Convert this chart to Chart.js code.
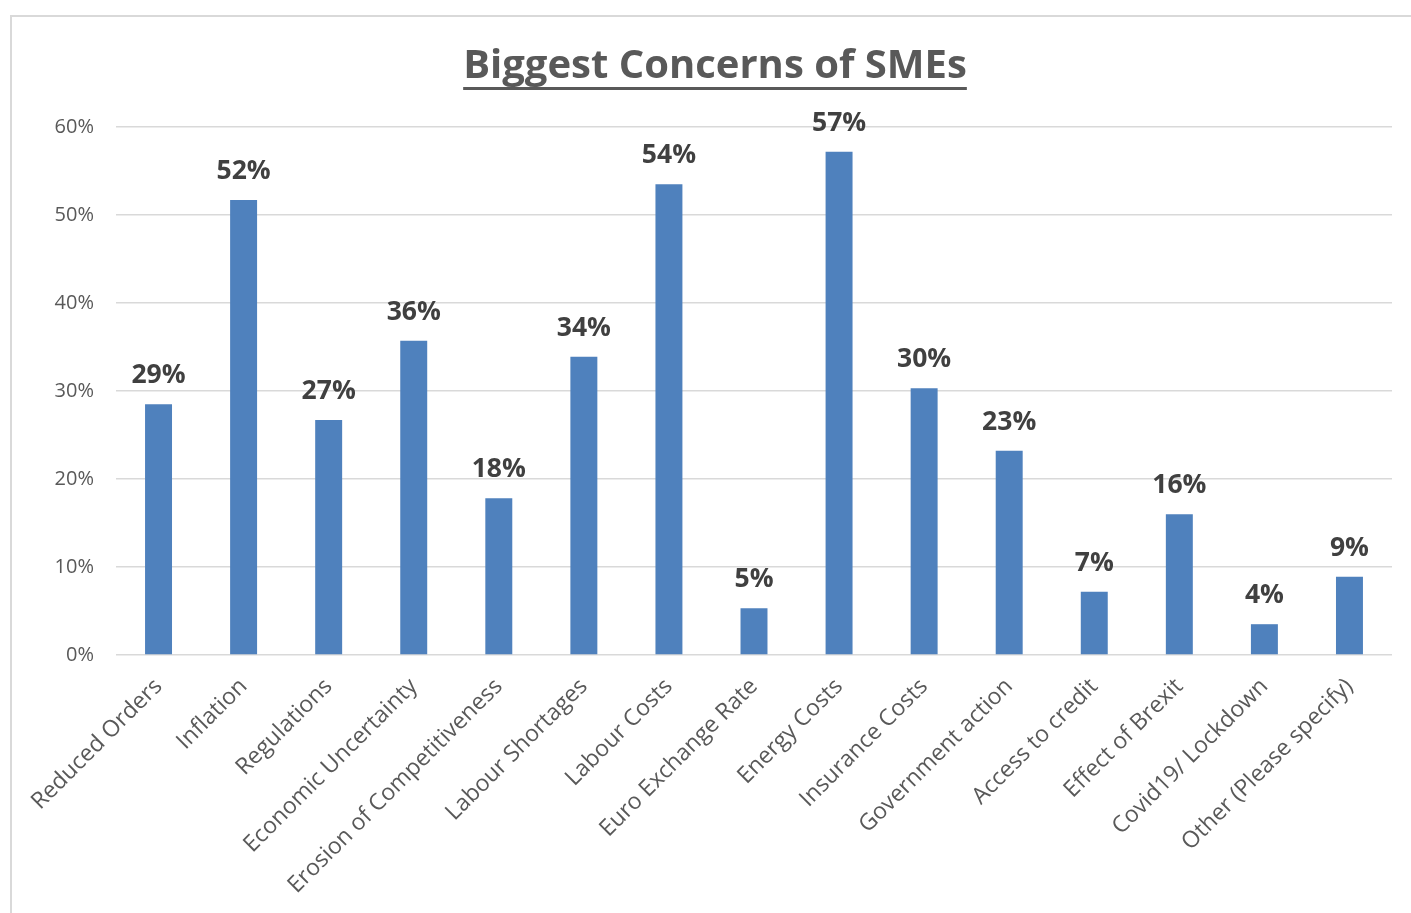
<!DOCTYPE html>
<html>
<head>
<meta charset="utf-8">
<title>Biggest Concerns of SMEs</title>
<script src="https://cdn.jsdelivr.net/npm/chart.js@4/dist/chart.umd.min.js"></script>
<style>
  html, body { margin: 0; padding: 0; background: #ffffff; overflow: hidden; }
  #frame { position: absolute; left: 10px; top: 15px; width: 1420px; height: 920px;
           border: 2px solid #d9d9d9; box-sizing: border-box; }
  #wrap { position: absolute; left: 10px; top: 15px; width: 1420px; height: 898px; }
  canvas { display: block; }
</style>
</head>
<body>
<div id="frame"></div>
<div id="wrap"><canvas id="chart"></canvas></div>
<script>
// Survey answers: share of SMEs naming each concern (percent)
const categories = [
  'Reduced Orders', 'Inflation', 'Regulations', 'Economic Uncertainty',
  'Erosion of Competitiveness', 'Labour Shortages', 'Labour Costs',
  'Euro Exchange Rate', 'Energy Costs', 'Insurance Costs', 'Government action',
  'Access to credit', 'Effect of Brexit', 'Covid19/ Lockdown', 'Other (Please specify)'
];
const shares = [28.5, 51.7, 26.7, 35.7, 17.8, 33.9, 53.5, 5.3, 57.2, 30.3, 23.2, 7.2, 16.0, 3.5, 8.9];
const yTicks = [0, 10, 20, 30, 40, 50, 60];
const chartTitle = 'Biggest Concerns of SMEs';

const FONT = "'Open Sans', 'DejaVu Sans', sans-serif";

// Bold percentage labels above each bar
const valueLabels = {
  id: 'valueLabels',
  afterDatasetsDraw(chart) {
    const { ctx } = chart;
    const meta = chart.getDatasetMeta(0);
    ctx.save();
    ctx.font = "bold 26.5px " + FONT;
    ctx.fillStyle = '#404040';
    ctx.textAlign = 'center';
    ctx.textBaseline = 'alphabetic';
    meta.data.forEach((bar, i) => {
      ctx.fillText(Math.round(shares[i]) + '%', bar.x, bar.y - 21);
    });
    ctx.restore();
  }
};

// Underline beneath the chart title
const titleUnderline = {
  id: 'titleUnderline',
  afterDraw(chart) {
    const tb = chart.titleBlock;
    if (!tb) return;
    const { ctx } = chart;
    const opts = chart.options.plugins.title;
    ctx.save();
    ctx.font = "bold " + opts.font.size + "px " + FONT;
    const w = ctx.measureText(chartTitle).width;
    const cx = (tb.left + tb.right) / 2;
    const y = tb.top + opts.padding.top + opts.font.size * 1.2 / 2 + opts.font.size * 0.5;
    ctx.fillStyle = '#595959';
    ctx.fillRect(cx - w / 2, y, w, 3);
    ctx.restore();
  }
};

new Chart(document.getElementById('chart'), {
  type: 'bar',
  data: {
    labels: categories,
    datasets: [{
      data: shares,
      backgroundColor: '#4F81BD',
      borderWidth: 0,
      categoryPercentage: 1,
      barPercentage: 0.317
    }]
  },
  options: {
    responsive: true,
    maintainAspectRatio: false,
    animation: false,
    layout: { padding: { left: 28, right: 38, top: 0, bottom: 0 } },
    plugins: {
      legend: { display: false },
      tooltip: { enabled: false },
      title: {
        display: true,
        text: chartTitle,
        color: '#595959',
        font: { family: FONT, size: 40, weight: 'bold', lineHeight: 1.2 },
        padding: { top: 28, bottom: 36 }
      }
    },
    scales: {
      x: {
        grid: { display: false, drawTicks: false },
        border: { display: false },
        ticks: {
          color: '#595959',
          font: { family: FONT, size: 23 },
          minRotation: 45,
          maxRotation: 45,
          autoSkip: false,
          padding: 18
        },
        afterFit(scale) {
          scale.height = 258;
          scale.paddingLeft = 0;
          scale.paddingRight = 0;
        }
      },
      y: {
        min: yTicks[0],
        max: yTicks[yTicks.length - 1],
        afterBuildTicks(scale) {
          scale.ticks = yTicks.map(v => ({ value: v }));
        },
        grid: { color: '#d9d9d9', lineWidth: 1.5, drawTicks: false },
        border: { display: false },
        ticks: {
          color: '#595959',
          font: { family: FONT, size: 20 },
          padding: 22,
          callback: v => v + '%'
        },
        afterFit(scale) {
          scale.width = 78;
          scale.paddingTop = 0;
          scale.paddingBottom = 0;
        }
      }
    }
  },
  plugins: [valueLabels, titleUnderline]
});
</script>
</body>
</html>
